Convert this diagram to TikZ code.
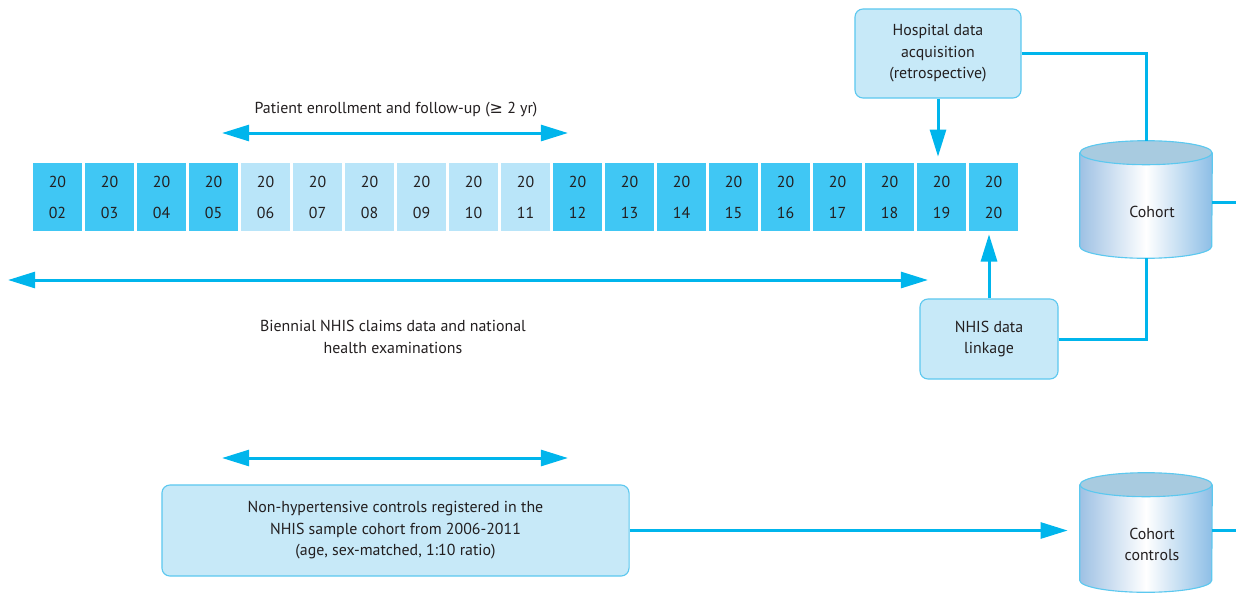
\documentclass[tikz,border=0pt]{standalone}
\usepackage{fontspec}
\setmainfont{PT Sans}
\newfontfamily\symfont{DejaVu Sans}
\usetikzlibrary{arrows.meta,backgrounds}
\definecolor{yeardark}{HTML}{40C7F4}
\definecolor{yearlight}{HTML}{B9E5F9}
\definecolor{boxfill}{HTML}{C7E9F8}
\definecolor{boxline}{HTML}{5CC8EF}
\definecolor{flowblue}{HTML}{00B5EC}
\definecolor{drumtopc}{HTML}{A8CBE0}
\definecolor{drumleft}{HTML}{9EC1E4}
\definecolor{drumright}{HTML}{8DBEE6}
\definecolor{txt}{HTML}{231F20}
\tikzset{
    yearbox/.style={minimum width=1.225cm, minimum height=1.7cm, inner sep=0pt,
            align=center, text=txt, font=\fontsize{11.3}{22}\selectfont},
    infobox/.style={draw=boxline, fill=boxfill, line width=0.8pt, rounded corners=0.2cm,
            align=center, text=txt, inner sep=0pt, font=\fontsize{11.3}{15.3}\selectfont},
    lbl/.style={align=center, text=txt, font=\fontsize{11.3}{15.6}\selectfont},
    drumbox/.style={minimum width=3.3cm, inner sep=0pt, align=center, text=txt,
            font=\fontsize{11.3}{15.3}\selectfont},
    flow/.style={draw=flowblue, line width=0.075cm},
    arr/.style={flow, -{Triangle[length=0.68cm,width=0.4cm]}},
    biarr/.style={flow, {Triangle[length=0.68cm,width=0.4cm]}-{Triangle[length=0.68cm,width=0.4cm]}},
}
% cylinder drawn round a named node (its body)
\newcommand\drum[1]{%
    \begin{scope}[on background layer]
        \shade[left color=drumleft, right color=drumright, middle color=white]
            ([yshift=0.3cm]#1.north west) -- ([yshift=0.3cm]#1.south west)
            arc[start angle=180, end angle=360, x radius=1.65cm, y radius=0.3cm]
            -- ([yshift=0.3cm]#1.north east) -- cycle;
        \draw[boxline, line width=0.8pt]
            ([yshift=0.3cm]#1.north west) -- ([yshift=0.3cm]#1.south west)
            arc[start angle=180, end angle=360, x radius=1.65cm, y radius=0.3cm]
            -- ([yshift=0.3cm]#1.north east);
        \filldraw[fill=drumtopc, draw=boxline, line width=0.8pt]
            ([yshift=0.3cm]#1.north) ellipse[x radius=1.65cm, y radius=0.3cm];
    \end{scope}}

\begin{document}
\begin{tikzpicture}[x=0.025cm, y=-0.025cm]
    \useasboundingbox (0,0) rectangle (1236,594);
    %year boxes
    \foreach \yr in {2,...,20}{
        \pgfmathsetmacro\xpos{57.5+52*(\yr-2)}
        \def\yrfill{yeardark}
        \ifnum\yr>5 \ifnum\yr<12 \def\yrfill{yearlight}\fi\fi
        \node[yearbox, fill=\yrfill] (y\yr) at (\xpos,197) {20\\\ifnum\yr<10 0\fi\yr};
    }
    %labels and spans
    \node[lbl] (enrtxt) at (396,110) {Patient enrollment and follow-up ({\symfont\char"2265} 2 yr)};
    \coordinate (enrA) at (222,133);
    \coordinate (enrB) at (568,133);
    \draw[biarr] (enrA) -- (enrB);
    \coordinate (bienA) at (8,280);
    \coordinate (bienB) at (928,280);
    \draw[biarr] (bienA) -- (bienB);
    \node[lbl] (bientxt) at (393,337) {Biennial NHIS claims data and national\\health examinations};
    \coordinate (ctlA) at (222,458);
    \coordinate (ctlB) at (568,458);
    \draw[biarr] (ctlA) -- (ctlB);
    %boxes
    \node[infobox, minimum width=4.15cm, minimum height=2.225cm] (hosp) at (938,53.5)
        {Hospital data\\acquisition\\(retrospective)};
    \node[infobox, minimum width=3.45cm, minimum height=2cm] (link) at (989,339)
        {NHIS data\\linkage};
    \node[infobox, minimum width=11.675cm, minimum height=2.275cm] (ctrl) at (395.5,530.5)
        {Non-hypertensive controls registered in the\\NHIS sample cohort from 2006-2011\\(age, sex-matched, 1:10 ratio)};
    %cylinders
    \node[drumbox, minimum height=2.325cm] (coh) at (1146,211.5) {\hspace*{0.3cm}Cohort};
    \drum{coh}
    \node[drumbox, minimum height=2.375cm] (cohctl) at (1146,544.5) {\hspace*{0.3cm}Cohort\\\hspace*{0.3cm}controls};
    \drum{cohctl}
    %connectors
    \draw[arr, shorten >=0.15cm] (hosp.south) -- (hosp.south |- y19.north);
    \draw[arr, shorten >=0.075cm] (link.north) -- (link.north |- y20.south);
    \draw[flow] (hosp.east) -| ([yshift=0.6cm]coh.north);
    \draw[flow] (link.east) -| (coh.south);
    \coordinate (outA) at (1236,202);
    \draw[flow] (coh.east |- outA) -- (outA);
    \draw[arr, shorten >=0.3cm] (ctrl.east) -- (ctrl.east -| cohctl.west);
    \coordinate (outB) at (1236,530);
    \draw[flow] (cohctl.east |- outB) -- (outB);
\end{tikzpicture}
\end{document}
